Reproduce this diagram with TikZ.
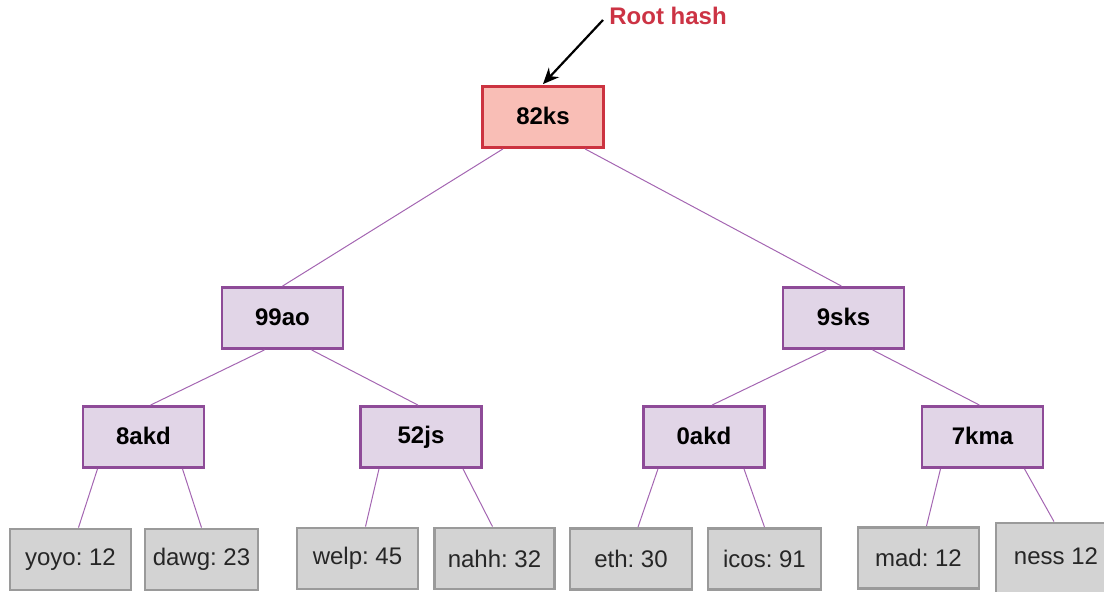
\documentclass[tikz,border=0pt]{standalone}
\usepackage{fontspec}
\setmainfont{Liberation Sans}
\usetikzlibrary{calc,arrows.meta}
\frenchspacing
\definecolor{rootfill}{HTML}{F9BEB6}
\definecolor{rootdraw}{HTML}{CC3340}
\definecolor{hashfill}{HTML}{E1D5E7}
\definecolor{hashdraw}{HTML}{8E4B98}
\definecolor{edgecol}{HTML}{A466B2}
\definecolor{leaffill}{HTML}{D3D3D3}
\definecolor{leafdraw}{HTML}{9A9A9A}
\definecolor{labelred}{HTML}{CC3344}
\tikzset{
  box/.style={rectangle, inner sep=0pt, line width=1.4pt, minimum width=60.5pt, minimum height=30.5pt, font=\fontsize{12}{14}\selectfont\bfseries},
  rootbox/.style={box, fill=rootfill, draw=rootdraw},
  hashbox/.style={box, fill=hashfill, draw=hashdraw},
  leafbox/.style={rectangle, inner sep=0pt, line width=1.4pt, minimum width=60pt, minimum height=30.5pt, fill=leaffill, draw=leafdraw, font=\fontsize{12}{14}\selectfont\frenchspacing, text=black!85},
  link/.style={draw=edgecol, line width=0.5pt},
}
\begin{document}
\begin{tikzpicture}[x=0.5pt,y=-0.5pt]
\useasboundingbox (0,0) rectangle (1104,592);
\node[rootbox] (root) at (543,117) {\raisebox{1pt}{82ks}};
\node[hashbox] (h99ao) at (282.5,318) {\raisebox{1pt}{99ao}};
\node[hashbox] (h9sks) at (843.5,318) {\raisebox{1pt}{9sks}};
\node[hashbox] (h8akd) at (143.5,437) {\raisebox{1pt}{8akd}};
\node[hashbox] (h52js) at (421,437) {\raisebox{1pt}{52js}};
\node[hashbox] (h0akd) at (704,437) {\raisebox{1pt}{0akd}};
\node[hashbox] (h7kma) at (982.5,437) {\raisebox{1pt}{7kma}};
\node[leafbox, minimum width=60.5pt] (yoyo) at (70.5,559.5) {yoyo: 12};
\node[leafbox, minimum width=56.5pt] (dawg) at (201.5,559.5) {dawg: 23};
\node[leafbox, minimum width=60.5pt] (welp) at (357.5,558.5) {welp: 45};
\node[leafbox, minimum width=60pt] (nahh) at (494.5,558.5) {nahh: 32};
\node[leafbox, minimum width=61pt] (eth) at (631,559) {eth: 30};
\node[leafbox, minimum width=56.5pt] (icos) at (764.5,559) {icos: 91};
\node[leafbox, minimum width=60.5pt] (mad) at (918.5,558) {mad: 12};
\node[leafbox, minimum width=60pt, minimum height=36pt] (ness) at (1056,559) {\raisebox{3pt}{ness 12}};
\node[anchor=base west, inner sep=0pt, text=labelred, font=\fontsize{12}{14}\selectfont\bfseries] (lbl) at (609,25) {Root hash};
\coordinate (arrstart) at (603,20);
\draw[line width=1.1pt, -{Stealth[length=8pt,width=7pt]}] (arrstart) -- ($(root.north)+(0,-1)$);
% root edges
\draw[link] ($(root.south)+(-40,0)$) -- (h99ao.north);
\draw[link] ($(root.south)+(42,0)$) -- ($(h9sks.north)+(-2,0)$);
% level 2
\draw[link] ($(h99ao.south)+(-18,0)$) -- ($(h8akd.north)+(7,0)$);
\draw[link] ($(h99ao.south)+(29,0)$) -- ($(h52js.north)+(-3,0)$);
\draw[link] ($(h9sks.south)+(-17,0)$) -- ($(h0akd.north)+(8,0)$);
\draw[link] ($(h9sks.south)+(29,0)$) -- ($(h7kma.north)+(-3,0)$);
% level 3
\draw[link] ($(h8akd.south)+(-46,0)$) -- ($(yoyo.north)+(8,0)$);
\draw[link] ($(h8akd.south)+(39,0)$) -- ($(dawg.north)+(0,0)$);
\draw[link] ($(h52js.south)+(-42,0)$) -- ($(welp.north)+(8,0)$);
\draw[link] ($(h52js.south)+(42,0)$) -- ($(nahh.north)+(-2,0)$);
\draw[link] ($(h0akd.south)+(-46,0)$) -- ($(eth.north)+(7,0)$);
\draw[link] ($(h0akd.south)+(40,0)$) -- ($(icos.north)+(0,0)$);
\draw[link] ($(h7kma.south)+(-42,0)$) -- ($(mad.north)+(8,0)$);
\draw[link] ($(h7kma.south)+(42,0)$) -- ($(ness.north)+(-2,0)$);
\end{tikzpicture}
\end{document}
